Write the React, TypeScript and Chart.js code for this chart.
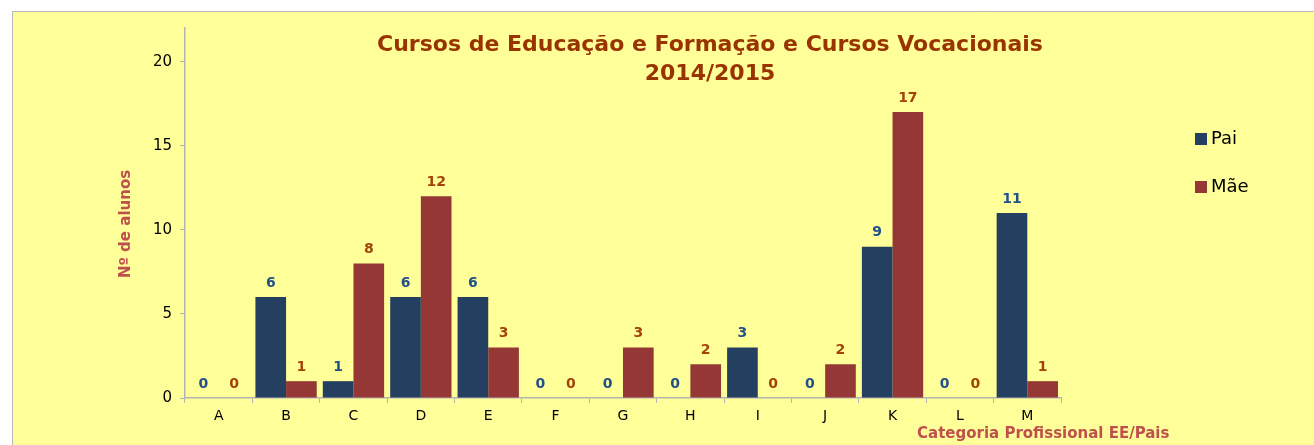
import React, { useEffect, useRef } from "react";
import { Chart, registerables } from "chart.js";

Chart.register(...registerables);

const categories = ["A", "B", "C", "D", "E", "F", "G", "H", "I", "J", "K", "L", "M"];
const paiValues = [0, 6, 1, 6, 6, 0, 0, 0, 3, 0, 9, 0, 11];
const maeValues = [0, 1, 8, 12, 3, 0, 3, 2, 0, 2, 17, 0, 1];
const seriesNames = ["Pai", "Mãe"];
const titleLines = ["Cursos de Educação e Formação e Cursos Vocacionais", "2014/2015"];
const yAxisTitle = "Nº de alunos";
const xAxisTitle = "Categoria Profissional EE/Pais";

const FONT = "'DejaVu Sans', sans-serif";
const PAI_BAR = "#243F60";
const MAE_BAR = "#953735";
const PAI_LABEL = "#22508A";
const MAE_LABEL = "#A4420A";
const TITLE_COLOR = "#993300";
const AXIS_TITLE_COLOR = "#C0504D";
const AXIS_COLOR = "#B3B3B3";

const decorPlugin = {
  id: "decor",
  beforeDraw(chart: any) {
    const ctx = chart.ctx;
    ctx.save();
    ctx.fillStyle = "#FFFFFF";
    ctx.fillRect(0, 0, chart.width, chart.height);
    ctx.fillStyle = "#FFFF99";
    ctx.fillRect(12, 11, chart.width, chart.height);
    ctx.strokeStyle = "#B8B8B8";
    ctx.lineWidth = 1;
    ctx.beginPath();
    ctx.moveTo(12.5, chart.height);
    ctx.lineTo(12.5, 11.5);
    ctx.lineTo(chart.width, 11.5);
    ctx.stroke();
    ctx.restore();
  },
  afterDraw(chart: any) {
    const ctx = chart.ctx;
    ctx.save();
    // Title
    ctx.fillStyle = TITLE_COLOR;
    ctx.font = `bold 22px ${FONT}`;
    ctx.textAlign = "center";
    ctx.textBaseline = "middle";
    ctx.fillText(titleLines[0], 710, 45);
    ctx.fillText(titleLines[1], 710, 74);
    // Y axis title
    ctx.save();
    ctx.translate(126, 224);
    ctx.rotate(-Math.PI / 2);
    ctx.fillStyle = AXIS_TITLE_COLOR;
    ctx.font = `bold 15px ${FONT}`;
    ctx.fillText(yAxisTitle, 0, 0);
    ctx.restore();
    // X axis title
    ctx.fillStyle = AXIS_TITLE_COLOR;
    ctx.font = `bold 15px ${FONT}`;
    ctx.textAlign = "left";
    ctx.fillText(xAxisTitle, 917, 434);
    // Legend
    const legendColors = [PAI_BAR, MAE_BAR];
    const legendY = [139, 187];
    ctx.font = `18px ${FONT}`;
    ctx.textAlign = "left";
    for (let i = 0; i < seriesNames.length; i++) {
      ctx.fillStyle = legendColors[i];
      ctx.fillRect(1195, legendY[i] - 6, 12, 12);
      ctx.fillStyle = "#000000";
      ctx.fillText(seriesNames[i], 1211, legendY[i]);
    }
    // Data labels
    const labelColors = [PAI_LABEL, MAE_LABEL];
    ctx.font = `bold 14px ${FONT}`;
    ctx.textAlign = "center";
    chart.data.datasets.forEach((ds: any, di: number) => {
      const meta = chart.getDatasetMeta(di);
      ctx.fillStyle = labelColors[di];
      meta.data.forEach((bar: any, i: number) => {
        ctx.fillText(String(ds.data[i]), bar.x, bar.y - 14);
      });
    });
    ctx.restore();
  },
};

export default function App() {
  const canvasRef = useRef<HTMLCanvasElement | null>(null);

  useEffect(() => {
    if (!canvasRef.current) return;
    const chart = new Chart(canvasRef.current, {
      type: "bar",
      data: {
        labels: categories,
        datasets: [
          {
            label: seriesNames[0],
            data: paiValues,
            backgroundColor: PAI_BAR,
            borderWidth: 0,
            categoryPercentage: 0.91,
            barPercentage: 1,
          },
          {
            label: seriesNames[1],
            data: maeValues,
            backgroundColor: MAE_BAR,
            borderWidth: 0,
            categoryPercentage: 0.91,
            barPercentage: 1,
          },
        ],
      },
      options: {
        responsive: false,
        animation: false,
        layout: { padding: { left: 0, top: 28, right: 253, bottom: 0 } },
        plugins: {
          legend: { display: false },
          title: { display: false },
          tooltip: { enabled: false },
        },
        scales: {
          x: {
            afterFit: (scale: any) => {
              scale.height = 47;
            },
            grid: {
              offset: true,
              drawOnChartArea: false,
              drawTicks: true,
              tickLength: 5,
              color: AXIS_COLOR,
            },
            border: { color: AXIS_COLOR, width: 1.5 },
            ticks: {
              color: "#000000",
              font: { family: FONT, size: 14 },
              padding: 5,
            },
          },
          y: {
            min: 0,
            max: 22,
            afterFit: (scale: any) => {
              scale.width = 185;
            },
            afterBuildTicks: (scale: any) => {
              scale.ticks = [0, 5, 10, 15, 20].map((v) => ({ value: v }));
            },
            grid: {
              drawOnChartArea: false,
              drawTicks: true,
              tickLength: 5,
              color: AXIS_COLOR,
            },
            border: { color: AXIS_COLOR, width: 1.5 },
            ticks: {
              color: "#000000",
              font: { family: FONT, size: 15 },
              padding: 8,
            },
          },
        },
      },
      plugins: [decorPlugin],
    });
    return () => chart.destroy();
  }, []);

  return (
    <div style={{ position: "fixed", left: 0, top: 0, width: 1314, height: 445 }}>
      <canvas ref={canvasRef} width={1314} height={445} style={{ width: 1314, height: 445, display: "block" }} />
    </div>
  );
}
